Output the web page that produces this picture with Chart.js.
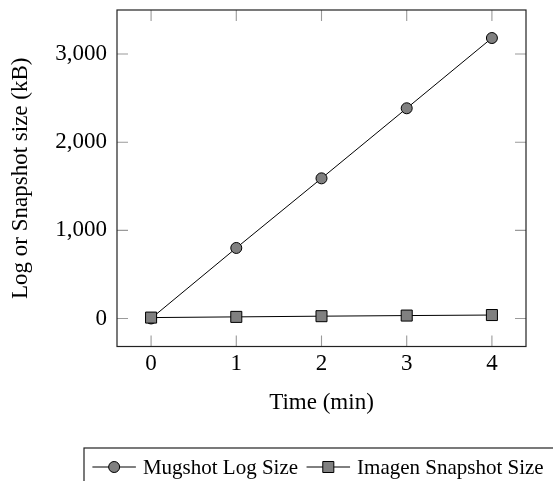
<!DOCTYPE html>
<html>
<head>
<meta charset="utf-8">
<script src="https://cdn.jsdelivr.net/npm/chart.js"></script>
<style>
  html, body { margin: 0; padding: 0; background: #fff; }
  #grafico { width: 553px; height: 481px; position: relative; }
</style>
</head>
<body>
<div id="grafico"><canvas id="chartTamanho"></canvas></div>
<script>
// Dados
var tempos = [0, 1, 2, 3, 4];
var tamanhoLog = [0, 800, 1590, 2385, 3182];
var tamanhoSnapshot = [10, 18, 26, 33, 39];
var ticksX = [0, 1, 2, 3, 4];
var ticksY = [0, 1000, 2000, 3000];
var nomesSeries = ['Mugshot Log Size', 'Imagen Snapshot Size'];
var tituloX = 'Time (min)';
var tituloY = 'Log or Snapshot size (kB)';

var fonte = "'Liberation Serif', 'Times New Roman', serif";
var cinzaMarcador = '#808080';

function montarPontos(xs, ys) {
    return xs.map(function(x, i) { return { x: x, y: ys[i] }; });
}

function desenharMarcador(ctx, estilo, x, y, raio) {
    ctx.beginPath();
    if (estilo === 'rect') {
        var lado = Math.SQRT1_2 * raio;
        ctx.rect(x - lado, y - lado, 2 * lado, 2 * lado);
    } else {
        ctx.arc(x, y, raio, 0, Math.PI * 2);
    }
    ctx.fillStyle = cinzaMarcador;
    ctx.fill();
    ctx.strokeStyle = '#000';
    ctx.lineWidth = 1;
    ctx.stroke();
}

// caixa do eixo, ticks internos e legenda
var moldura = {
    id: 'moldura',
    beforeDatasetsDraw: function(chart) {
        var ctx = chart.ctx, a = chart.chartArea;
        var sx = chart.scales.x, sy = chart.scales.y;
        ctx.save();
        ctx.strokeStyle = '#9a9a9a';
        ctx.lineWidth = 1.1;
        ctx.beginPath();
        sx.ticks.forEach(function(t) {
            var px = sx.getPixelForValue(t.value);
            ctx.moveTo(px, a.bottom); ctx.lineTo(px, a.bottom - 11);
            ctx.moveTo(px, a.top); ctx.lineTo(px, a.top + 11);
        });
        sy.ticks.forEach(function(t) {
            var py = sy.getPixelForValue(t.value);
            ctx.moveTo(a.left, py); ctx.lineTo(a.left + 11, py);
            ctx.moveTo(a.right, py); ctx.lineTo(a.right - 11, py);
        });
        ctx.stroke();
        ctx.restore();
    },
    afterDraw: function(chart) {
        var ctx = chart.ctx, a = chart.chartArea;
        ctx.save();
        ctx.strokeStyle = '#222';
        ctx.lineWidth = 1.2;
        ctx.strokeRect(a.left, a.top, a.right - a.left, a.bottom - a.top);

        // legenda
        ctx.strokeRect(84, 448, 600, 100);
        ctx.font = '21px ' + fonte;
        ctx.textBaseline = 'alphabetic';
        ctx.textAlign = 'left';
        var x = 92.4, y = 467;
        chart.data.datasets.forEach(function(ds) {
            ctx.beginPath();
            ctx.moveTo(x, y);
            ctx.lineTo(x + 43.5, y);
            ctx.strokeStyle = '#000';
            ctx.lineWidth = 1;
            ctx.stroke();
            desenharMarcador(ctx, ds.pointStyle, x + 21.75, y, ds.pointRadius);
            x += 50.5;
            ctx.fillStyle = '#000';
            ctx.fillText(ds.label, x, 474);
            x += ctx.measureText(ds.label).width + 8.5;
        });
        ctx.restore();
    }
};

function plotarTamanhos() {
    var ctx = document.getElementById('chartTamanho').getContext('2d');
    var myChart = new Chart(ctx, {
        type: 'line',
        data: {
            datasets: [{
                label: nomesSeries[0],
                data: montarPontos(tempos, tamanhoLog),
                borderColor: '#000',
                borderWidth: 1,
                backgroundColor: cinzaMarcador,
                pointStyle: 'circle',
                pointRadius: 5.5,
                pointBorderColor: '#000',
                pointBorderWidth: 1,
                pointBackgroundColor: cinzaMarcador,
                fill: false,
                tension: 0,
                order: 1
            }, {
                label: nomesSeries[1],
                data: montarPontos(tempos, tamanhoSnapshot),
                borderColor: '#000',
                borderWidth: 1,
                backgroundColor: cinzaMarcador,
                pointStyle: 'rect',
                pointRadius: 7.8,
                pointBorderColor: '#000',
                pointBorderWidth: 1,
                pointBackgroundColor: cinzaMarcador,
                fill: false,
                tension: 0,
                order: 0
            }]
        },
        options: {
            responsive: true,
            maintainAspectRatio: false,
            animation: false,
            layout: {
                autoPadding: false,
                padding: { left: 0, top: 10, right: 27, bottom: 64.5 }
            },
            plugins: {
                legend: { display: false },
                tooltip: { enabled: false }
            },
            scales: {
                x: {
                    type: 'linear',
                    min: -0.4,
                    max: 4.4,
                    grid: { display: false, drawTicks: false },
                    border: { display: false },
                    afterBuildTicks: function(s) {
                        s.ticks = ticksX.map(function(v) { return { value: v }; });
                    },
                    afterFit: function(s) {
                        s.height = 70;
                        s.paddingLeft = 0;
                        s.paddingRight = 0;
                    },
                    ticks: {
                        padding: 4,
                        color: '#000',
                        maxRotation: 0,
                        font: { family: fonte, size: 23 },
                        callback: function(v) { return String(v); }
                    },
                    title: {
                        display: true,
                        text: tituloX,
                        color: '#000',
                        font: { family: fonte, size: 23 },
                        padding: { top: 0, bottom: 0 }
                    }
                },
                y: {
                    type: 'linear',
                    min: -318,
                    max: 3500,
                    grid: { display: false, drawTicks: false },
                    border: { display: false },
                    afterBuildTicks: function(s) {
                        s.ticks = ticksY.map(function(v) { return { value: v }; });
                    },
                    afterFit: function(s) {
                        s.width = 117;
                        s.paddingTop = 0;
                        s.paddingBottom = 0;
                    },
                    ticks: {
                        padding: 10,
                        color: '#000',
                        font: { family: fonte, size: 23 },
                        callback: function(v) { return v.toLocaleString('en-US'); }
                    },
                    title: {
                        display: true,
                        text: tituloY,
                        color: '#000',
                        font: { family: fonte, size: 23 },
                        padding: { top: 7.6, bottom: 0 }
                    }
                }
            }
        },
        plugins: [moldura]
    });
}

plotarTamanhos();
</script>
</body>
</html>
